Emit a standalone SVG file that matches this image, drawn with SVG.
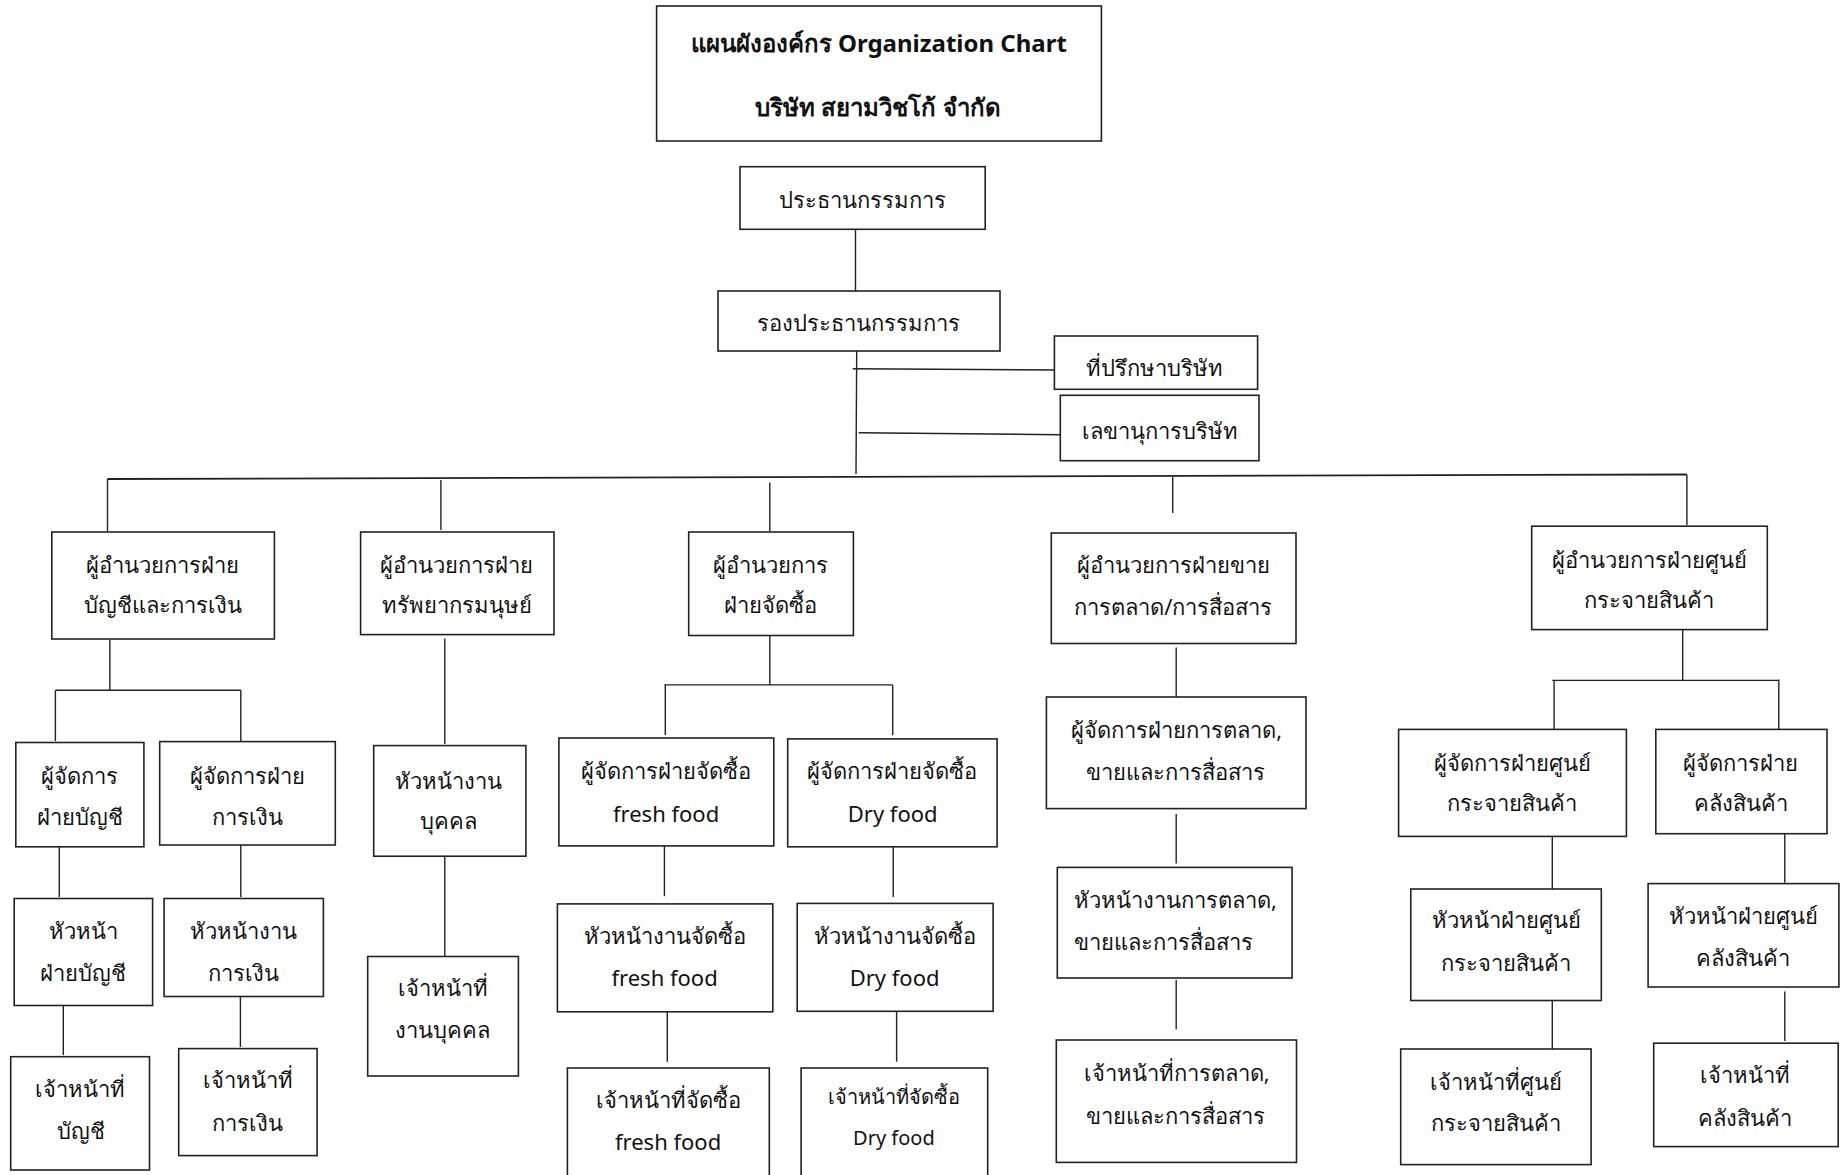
<svg xmlns="http://www.w3.org/2000/svg" width="1848" height="1175" viewBox="0 0 1848 1175">
<style>
.b{fill:#fff;stroke:#222;stroke-width:1.6}
.t{font-family:"Noto Sans","DejaVu Sans",sans-serif;font-size:22px;fill:#111;text-anchor:middle;dominant-baseline:central}
.h{font-weight:bold;font-size:24px}
.s{font-size:20px}
.c line{stroke:#222;stroke-width:1.4}
</style>
<rect width="1848" height="1175" fill="#fff"/>
<g class="c" id="connectors">
<line x1="855.5" y1="229" x2="855.5" y2="291"/>
<line x1="856.7" y1="351" x2="856" y2="474"/>
<line x1="852.7" y1="368.7" x2="1054.4" y2="370"/>
<line x1="858.7" y1="432.7" x2="1060.3" y2="434.7"/>
<line x1="107.5" y1="479" x2="1686.9" y2="474.5" style="stroke-width:1.8"/>
<line x1="107.5" y1="479" x2="107.5" y2="531"/>
<line x1="440.9" y1="480" x2="440.9" y2="530"/>
<line x1="769.8" y1="482.6" x2="769.8" y2="531"/>
<line x1="1172.7" y1="477" x2="1172.7" y2="513"/>
<line x1="1686.9" y1="474.5" x2="1686.9" y2="525"/>
<line x1="109.9" y1="640" x2="109.9" y2="690.3"/>
<line x1="55.4" y1="690.3" x2="240.8" y2="690.3"/>
<line x1="55.4" y1="690.3" x2="55.4" y2="741"/>
<line x1="240.8" y1="690.3" x2="240.8" y2="741"/>
<line x1="59.3" y1="847" x2="59.3" y2="897"/>
<line x1="240.8" y1="845" x2="240.8" y2="897"/>
<line x1="63.3" y1="1005.5" x2="63.3" y2="1055"/>
<line x1="240.4" y1="996.5" x2="240.4" y2="1047"/>
<line x1="444.8" y1="638.6" x2="444.8" y2="744"/>
<line x1="444.8" y1="856.2" x2="444.8" y2="956"/>
<line x1="769.8" y1="635.5" x2="769.8" y2="684.9"/>
<line x1="664.4" y1="684.9" x2="892.7" y2="684.9"/>
<line x1="665.3" y1="684.9" x2="665.3" y2="735"/>
<line x1="892.7" y1="684.9" x2="892.7" y2="735.3"/>
<line x1="664.4" y1="846" x2="664.4" y2="896.2"/>
<line x1="893.2" y1="847" x2="893.2" y2="897"/>
<line x1="667.3" y1="1012" x2="667.3" y2="1061.7"/>
<line x1="896.6" y1="1012" x2="896.6" y2="1061.7"/>
<line x1="1176.2" y1="647.6" x2="1176.2" y2="697"/>
<line x1="1176.2" y1="814" x2="1176.2" y2="863.4"/>
<line x1="1176.2" y1="979.9" x2="1176.2" y2="1029.3"/>
<line x1="1682.7" y1="630" x2="1682.7" y2="680.4"/>
<line x1="1552.3" y1="680.4" x2="1778.8" y2="680.4"/>
<line x1="1554.1" y1="680.4" x2="1554.1" y2="729"/>
<line x1="1778.8" y1="679.5" x2="1778.8" y2="729"/>
<line x1="1552.3" y1="836.4" x2="1552.3" y2="889"/>
<line x1="1784.8" y1="833.7" x2="1784.8" y2="882.7"/>
<line x1="1552.3" y1="1000.5" x2="1552.3" y2="1049"/>
<line x1="1784.8" y1="991.5" x2="1784.8" y2="1041"/>
</g>
<g id="title"><rect class="b" x="656.6" y="6" width="444.8" height="135"/>
<text class="t h" x="878.8" y="42">แผนผังองค์กร Organization Chart</text>
<text class="t h" x="878" y="106">บริษัท สยามวิชโก้ จำกัด</text></g>
<g id="president"><rect class="b" x="740" y="166.7" width="245.2" height="62.6"/><text class="t" x="862.4" y="199">ประธานกรรมการ</text></g>
<g id="vice-president"><rect class="b" x="718" y="291" width="282" height="60"/><text class="t" x="858.5" y="322">รองประธานกรรมการ</text></g>
<g id="advisor"><rect class="b" x="1054.4" y="336" width="203.2" height="53.3"/><text class="t" x="1154.6" y="367">ที่ปรึกษาบริษัท</text></g>
<g id="secretary"><rect class="b" x="1060.3" y="395.3" width="198.7" height="65.4"/><text class="t" x="1160" y="430">เลขานุการบริษัท</text></g>

<g id="dir-finance"><rect class="b" x="51.8" y="532" width="222.6" height="107"/><text class="t" x="162.5" y="564">ผู้อำนวยการฝ่าย</text><text class="t" x="163.3" y="604">บัญชีและการเงิน</text></g>
<g id="dir-hr"><rect class="b" x="360.6" y="532" width="193.4" height="102.6"/><text class="t" x="456.7" y="564">ผู้อำนวยการฝ่าย</text><text class="t" x="457" y="604">ทรัพยากรมนุษย์</text></g>
<g id="dir-purchase"><rect class="b" x="688.7" y="532" width="164.7" height="103.5"/><text class="t" x="770.8" y="564">ผู้อำนวยการ</text><text class="t" x="770" y="604">ฝ่ายจัดซื้อ</text></g>
<g id="dir-marketing"><rect class="b" x="1051.3" y="533" width="244.7" height="110.5"/><text class="t" x="1173.2" y="564">ผู้อำนวยการฝ่ายขาย</text><text class="t" x="1173.4" y="606">การตลาด/การสื่อสาร</text></g>
<g id="dir-distribution"><rect class="b" x="1531.7" y="526.2" width="235.6" height="103.4"/><text class="t" x="1649.2" y="559">ผู้อำนวยการฝ่ายศูนย์</text><text class="t" x="1649.2" y="599.4">กระจายสินค้า</text></g>

<g id="mgr-accounting"><rect class="b" x="15.8" y="742.5" width="128.1" height="104.3"/><text class="t" x="79.7" y="775">ผู้จัดการ</text><text class="t" x="79.7" y="815.5">ฝ่ายบัญชี</text></g>
<g id="mgr-finance"><rect class="b" x="159.7" y="741.6" width="175.6" height="103.4"/><text class="t" x="247.7" y="775">ผู้จัดการฝ่าย</text><text class="t" x="247.1" y="815.5">การเงิน</text></g>
<g id="head-accounting"><rect class="b" x="14.2" y="898.5" width="138.4" height="107"/><text class="t" x="83" y="930">หัวหน้า</text><text class="t" x="83" y="972">ฝ่ายบัญชี</text></g>
<g id="head-finance"><rect class="b" x="164.1" y="898.5" width="159.3" height="98"/><text class="t" x="243.8" y="930">หัวหน้างาน</text><text class="t" x="243.2" y="972">การเงิน</text></g>
<g id="staff-accounting"><rect class="b" x="10.7" y="1056.7" width="138.8" height="113.3"/><text class="t" x="80" y="1087.5">เจ้าหน้าที่</text><text class="t" x="81" y="1129.5">บัญชี</text></g>
<g id="staff-finance"><rect class="b" x="178.7" y="1048.6" width="138.4" height="107"/><text class="t" x="248" y="1078.5">เจ้าหน้าที่</text><text class="t" x="247.7" y="1121.5">การเงิน</text></g>

<g id="head-personnel"><rect class="b" x="373.7" y="745.6" width="152.2" height="110.6"/><text class="t" x="448.8" y="779.5">หัวหน้างาน</text><text class="t" x="448.8" y="820">บุคคล</text></g>
<g id="staff-personnel"><rect class="b" x="367.7" y="956.5" width="150.7" height="119.5"/><text class="t" x="443.2" y="986.5">เจ้าหน้าที่</text><text class="t" x="442.8" y="1029">งานบุคคล</text></g>

<g id="mgr-fresh"><rect class="b" x="558.9" y="738" width="214.9" height="107.9"/><text class="t" x="665.6" y="769.5">ผู้จัดการฝ่ายจัดซื้อ</text><text class="t" x="666.1" y="813">fresh food</text></g>
<g id="mgr-dry"><rect class="b" x="787.7" y="738.9" width="209.4" height="107.9"/><text class="t" x="891.9" y="769.5">ผู้จัดการฝ่ายจัดซื้อ</text><text class="t" x="892.7" y="813">Dry food</text></g>
<g id="head-fresh"><rect class="b" x="557.4" y="903.9" width="215.4" height="107.9"/><text class="t" x="665.1" y="934.5">หัวหน้างานจัดซื้อ</text><text class="t" x="664.6" y="977">fresh food</text></g>
<g id="head-dry"><rect class="b" x="797.2" y="903.4" width="195.9" height="107.9"/><text class="t" x="894.9" y="934.5">หัวหน้างานจัดซื้อ</text><text class="t" x="894.6" y="977">Dry food</text></g>
<g id="staff-fresh"><rect class="b" x="567.4" y="1068" width="201.9" height="120"/><text class="t" x="668.3" y="1098.5">เจ้าหน้าที่จัดซื้อ</text><text class="t" x="668.1" y="1141">fresh food</text></g>
<g id="staff-dry"><rect class="b" x="801.1" y="1068" width="186.6" height="120"/><text class="t s" x="893.9" y="1096.5">เจ้าหน้าที่จัดซื้อ</text><text class="t s" x="893.9" y="1137">Dry food</text></g>

<g id="mgr-marketing"><rect class="b" x="1046.4" y="697" width="259.6" height="111.6"/><text class="t" x="1176.7" y="729">ผู้จัดการฝ่ายการตลาด,</text><text class="t" x="1175.4" y="770.5">ขายและการสื่อสาร</text></g>
<g id="head-marketing"><rect class="b" x="1057.3" y="867.4" width="234.8" height="110.6"/><text class="t" x="1175.4" y="898.5">หัวหน้างานการตลาด,</text><text class="t" x="1163" y="940.5">ขายและการสื่อสาร</text></g>
<g id="staff-marketing"><rect class="b" x="1056.3" y="1040" width="240.2" height="122.4"/><text class="t" x="1176.7" y="1071.5">เจ้าหน้าที่การตลาด,</text><text class="t" x="1175.9" y="1114.5">ขายและการสื่อสาร</text></g>

<g id="mgr-distribution"><rect class="b" x="1398.6" y="729.4" width="227.8" height="107"/><text class="t" x="1512.3" y="761.5">ผู้จัดการฝ่ายศูนย์</text><text class="t" x="1512" y="802">กระจายสินค้า</text></g>
<g id="mgr-warehouse"><rect class="b" x="1655.8" y="729.4" width="171.2" height="104.3"/><text class="t" x="1740.4" y="761.5">ผู้จัดการฝ่าย</text><text class="t" x="1741.3" y="802">คลังสินค้า</text></g>
<g id="head-distribution"><rect class="b" x="1410.8" y="889" width="190.5" height="111.5"/><text class="t" x="1506" y="919">หัวหน้าฝ่ายศูนย์</text><text class="t" x="1505.9" y="961.5">กระจายสินค้า</text></g>
<g id="head-warehouse"><rect class="b" x="1648.1" y="883.6" width="190.8" height="103.4"/><text class="t" x="1743.3" y="914.5">หัวหน้าฝ่ายศูนย์</text><text class="t" x="1743" y="957">คลังสินค้า</text></g>
<g id="staff-distribution"><rect class="b" x="1400.7" y="1049" width="190.4" height="115.6"/><text class="t" x="1495.7" y="1080.5">เจ้าหน้าที่ศูนย์</text><text class="t" x="1495.7" y="1121.5">กระจายสินค้า</text></g>
<g id="staff-warehouse"><rect class="b" x="1653.7" y="1043.2" width="184.5" height="103.4"/><text class="t" x="1745.3" y="1074">เจ้าหน้าที่</text><text class="t" x="1745.3" y="1116.5">คลังสินค้า</text></g>
</svg>
